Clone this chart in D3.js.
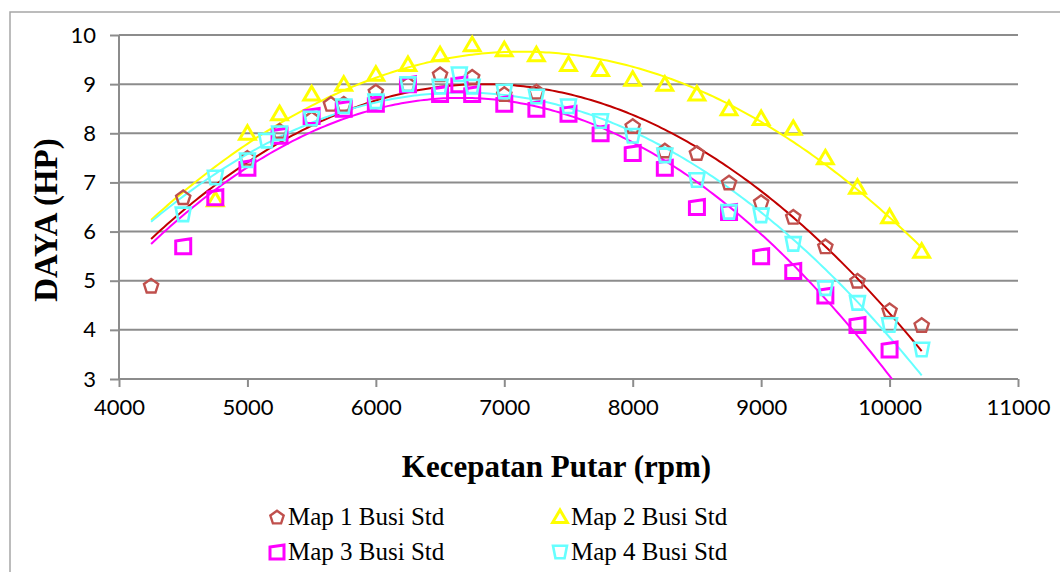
<!DOCTYPE html>
<html>
<head>
<meta charset="utf-8">
<script src="https://cdn.jsdelivr.net/npm/d3@7"></script>
<style>
  body { margin: 0; background: #fff; }
  svg { display: block; }
</style>
</head>
<body>
<div id="chart"></div>
<script>
// data (rpm vs HP)
var map1Rpm = [4250, 4500, 5000, 5250, 5500, 5650, 5750, 6000, 6250, 6500, 6750, 7000, 7250, 8000, 8250, 8500, 8750, 9000, 9250, 9500, 9750, 10000, 10250];
var map1Daya = [4.9, 6.7, 7.5, 8.05, 8.3, 8.6, 8.6, 8.85, 9.0, 9.2, 9.15, 8.8, 8.85, 8.15, 7.65, 7.6, 7.0, 6.6, 6.3, 5.7, 5.0, 4.4, 4.1];

var map2Rpm = [4750, 5000, 5250, 5500, 5750, 6000, 6250, 6500, 6750, 7000, 7250, 7500, 7750, 8000, 8250, 8500, 8750, 9000, 9250, 9500, 9750, 10000, 10250];
var map2Daya = [6.65, 8.0, 8.4, 8.8, 9.0, 9.2, 9.4, 9.6, 9.8, 9.7, 9.6, 9.4, 9.3, 9.1, 9.0, 8.8, 8.5, 8.3, 8.1, 7.5, 6.9, 6.3, 5.6];

var map3Rpm = [4500, 4750, 5000, 5250, 5500, 5750, 6000, 6250, 6500, 6650, 6750, 7000, 7250, 7500, 7750, 8000, 8250, 8500, 8750, 9000, 9250, 9500, 9750, 10000];
var map3Daya = [5.7, 6.7, 7.3, 7.95, 8.35, 8.5, 8.6, 9.0, 8.8, 9.0, 8.8, 8.6, 8.5, 8.4, 8.0, 7.6, 7.3, 6.5, 6.4, 5.5, 5.2, 4.7, 4.1, 3.6];

var map4Rpm = [4500, 4750, 5000, 5150, 5250, 5500, 5750, 6000, 6250, 6500, 6650, 6750, 7000, 7250, 7500, 7750, 8000, 8250, 8500, 8750, 9000, 9250, 9500, 9750, 10000, 10250];
var map4Daya = [6.35, 7.1, 7.45, 7.85, 8.0, 8.3, 8.55, 8.65, 9.0, 8.95, 9.2, 8.95, 8.85, 8.75, 8.55, 8.25, 7.95, 7.55, 7.05, 6.4, 6.33, 5.75, 4.85, 4.55, 4.1, 3.6];

var seriesNames = ["Map 1 Busi Std", "Map 2 Busi Std", "Map 3 Busi Std", "Map 4 Busi Std"];
var xTicks = [4000, 5000, 6000, 7000, 8000, 9000, 10000, 11000];
var yTicks = [3, 4, 5, 6, 7, 8, 9, 10];

var W = 1060, H = 572;
var plotL = 119, plotR = 1018, plotT = 35, plotB = 379;

var x = d3.scaleLinear().domain([4000, 11000]).range([plotL, plotR]);
var y = d3.scaleLinear().domain([3, 10]).range([plotB, plotT]);

// marker outlines, centred on 0,0
var shapes = {
    pentagon: function(r) {
        var p = [];
        for (var i = 0; i < 5; i++) {
            var a = -Math.PI / 2 + i * 2 * Math.PI / 5;
            p.push([r * Math.cos(a), r * Math.sin(a) + r * 0.1]);
        }
        return "M" + p.join("L") + "Z";
    },
    triangle: function(r) {
        return "M0," + (-r) + "L" + (r * 1.05) + "," + (r * 0.8) + "L" + (-r * 1.05) + "," + (r * 0.8) + "Z";
    },
    square: function(r) {
        // excel's square comes out a bit skewed at this size
        return "M" + (-r) + "," + (-r * 0.7) + "L" + r + "," + (-r) + "L" + r + "," + r + "L" + (-r) + "," + r + "Z";
    },
    trapezoid: function(r) {
        return "M" + (-r) + "," + (-r * 0.9) + "L" + r + "," + (-r * 0.9) + "L" + (r * 0.65) + "," + (r * 0.9) + "L" + (-r * 0.65) + "," + (r * 0.9) + "Z";
    }
};

var series = [
    { name: seriesNames[0], rpm: map1Rpm, daya: map1Daya, shape: "pentagon", mark: "#C0504D", line: "#C00000", sw: 2.4, end: 10250 },
    { name: seriesNames[1], rpm: map2Rpm, daya: map2Daya, shape: "triangle", mark: "#FFFF00", line: "#FFFF00", sw: 3, end: 10250 },
    { name: seriesNames[2], rpm: map3Rpm, daya: map3Daya, shape: "square", mark: "#FF00FF", line: "#FF00FF", sw: 3, end: 10100 },
    { name: seriesNames[3], rpm: map4Rpm, daya: map4Daya, shape: "trapezoid", mark: "#66FFFF", line: "#66FFFF", sw: 2.6, end: 10250 }
];

// least squares quadratic, like excel's polynomial trendline (order 2)
function quadFit(xs, ys) {
    var n = xs.length, s1 = 0, s2 = 0, s3 = 0, s4 = 0, t0 = 0, t1 = 0, t2 = 0;
    for (var i = 0; i < n; i++) {
        var t = xs[i] / 1000, v = ys[i];
        s1 += t; s2 += t * t; s3 += t * t * t; s4 += t * t * t * t;
        t0 += v; t1 += v * t; t2 += v * t * t;
    }
    var m = [[n, s1, s2], [s1, s2, s3], [s2, s3, s4]];
    var det = function(a) {
        return a[0][0] * (a[1][1] * a[2][2] - a[1][2] * a[2][1])
             - a[0][1] * (a[1][0] * a[2][2] - a[1][2] * a[2][0])
             + a[0][2] * (a[1][0] * a[2][1] - a[1][1] * a[2][0]);
    };
    var D = det(m), rhs = [t0, t1, t2], coef = [];
    for (var k = 0; k < 3; k++) {
        var mk = m.map(function(row, r) { var c = row.slice(); c[k] = rhs[r]; return c; });
        coef.push(det(mk) / D);
    }
    return function(xv) { var t = xv / 1000; return coef[0] + coef[1] * t + coef[2] * t * t; };
}

var svg = d3.select("#chart").append("svg").attr("width", W).attr("height", H);

// chart frame (runs off the right and bottom)
svg.append("rect")
    .attr("x", 10).attr("y", 12).attr("width", 1100).attr("height", 700)
    .attr("fill", "none").attr("stroke", "#a6a6a6").attr("stroke-width", 1.5);

svg.append("clipPath").attr("id", "plotClip")
    .append("rect").attr("x", plotL).attr("y", plotT - 20).attr("width", plotR - plotL + 20).attr("height", plotB - plotT + 20);

// gridlines
svg.append("g").selectAll("line")
    .data(yTicks.slice(1))
    .enter().append("line")
    .attr("x1", plotL).attr("x2", plotR)
    .attr("y1", function(d) { return y(d); }).attr("y2", function(d) { return y(d); })
    .attr("stroke", "#8c8c8c").attr("stroke-width", 2);

// axes
var yAxis = d3.axisLeft(y).tickValues(yTicks).tickSize(9).tickPadding(14).tickFormat(d3.format("d"));
var xAxis = d3.axisBottom(x).tickValues(xTicks).tickSize(8).tickPadding(12).tickFormat(d3.format("d"));

var gy = svg.append("g").attr("transform", "translate(" + plotL + ",0)").call(yAxis);
var gx = svg.append("g").attr("transform", "translate(0," + plotB + ")").call(xAxis);

[gx, gy].forEach(function(g) {
    g.selectAll("path, line").attr("stroke", "#8c8c8c").attr("stroke-width", 2);
    g.select(".domain").attr("d", g === gx ? "M" + plotL + ",0H" + plotR : "M0," + plotB + "V" + plotT);
    g.selectAll("text")
        .attr("fill", "#000")
        .style("font-family", "Lato, 'Open Sans', sans-serif")
        .style("font-size", "22px");
});

// trendlines
var lineGen = d3.line().x(function(d) { return x(d[0]); }).y(function(d) { return y(d[1]); });
var plot = svg.append("g").attr("clip-path", "url(#plotClip)");

series.forEach(function(s) {
    var f = quadFit(s.rpm, s.daya);
    var pts = d3.range(4250, s.end + 1, 25).map(function(v) { return [v, f(v)]; });
    plot.append("path")
        .attr("d", lineGen(pts))
        .attr("fill", "none")
        .attr("stroke", s.line)
        .attr("stroke-width", 2);
});

// markers, series 1 underneath
series.forEach(function(s) {
    svg.append("g").selectAll("path")
        .data(s.rpm.map(function(r, i) { return [r, s.daya[i]]; }))
        .enter().append("path")
        .attr("transform", function(d) { return "translate(" + x(d[0]) + "," + y(d[1]) + ")"; })
        .attr("d", shapes[s.shape](7.5))
        .attr("fill", "none")
        .attr("stroke", s.mark)
        .attr("stroke-width", s.sw);
});

// axis titles
svg.append("text")
    .attr("x", (plotL + plotR) / 2 - 12).attr("y", 477)
    .attr("text-anchor", "middle")
    .style("font-family", "'Liberation Serif', 'Times New Roman', serif")
    .style("font-weight", "bold").style("font-size", "31px")
    .text("Kecepatan Putar (rpm)");

svg.append("text")
    .attr("transform", "translate(57,220) rotate(-90)")
    .attr("text-anchor", "middle")
    .style("font-family", "'Liberation Serif', 'Times New Roman', serif")
    .style("font-weight", "bold").style("font-size", "33px")
    .text("DAYA (HP)");

// legend, two columns
var legPos = [[277, 517], [560, 517], [277, 552], [560, 552]];
var leg = svg.append("g").selectAll("g")
    .data(series)
    .enter().append("g")
    .attr("transform", function(d, i) { return "translate(" + legPos[i][0] + "," + legPos[i][1] + ")"; });

leg.append("path")
    .attr("d", function(d) { return shapes[d.shape](7); })
    .attr("fill", "none")
    .attr("stroke", function(d) { return d.mark; })
    .attr("stroke-width", function(d) { return d.sw; });

leg.append("text")
    .attr("x", 11).attr("y", 8)
    .style("font-family", "'Liberation Serif', 'Times New Roman', serif")
    .style("font-size", "25px")
    .text(function(d) { return d.name; });
</script>
</body>
</html>
